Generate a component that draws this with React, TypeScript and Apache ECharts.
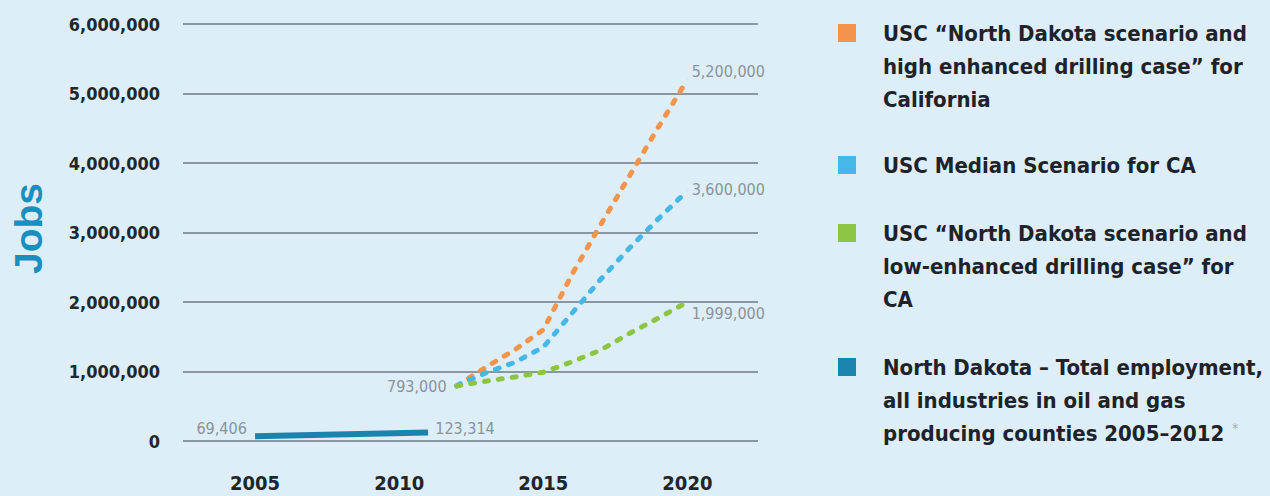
import React, { useEffect, useRef } from "react";
import * as echarts from "echarts";

// ---------- data ----------
const yearTicks = [2005, 2010, 2015, 2020];

const ndYears = [2005, 2011];
const ndJobs = [69406, 123314];

const scenarioYears = [2012, 2013, 2014, 2015, 2016, 2017, 2018, 2019, 2020];
const highCase = [793000, 1060000, 1310000, 1600000, 2400000, 3120000, 3820000, 4520000, 5200000];
const medianCase = [793000, 980000, 1130000, 1350000, 1840000, 2330000, 2780000, 3200000, 3600000];
const lowCase = [793000, 860000, 920000, 990000, 1140000, 1310000, 1550000, 1770000, 1999000];

const seriesNames = [
  "USC “North Dakota scenario and high enhanced drilling case” for California",
  "USC Median Scenario for CA",
  "USC “North Dakota scenario and low-enhanced drilling case” for CA",
  "North Dakota – Total employment, all industries in oil and gas producing counties 2005–2012",
];
const legendLines = [
  ["USC “North Dakota scenario and", "high enhanced drilling case” for", "California"],
  ["USC Median Scenario for CA"],
  ["USC “North Dakota scenario and", "low-enhanced drilling case” for", "CA"],
  ["North Dakota – Total employment,", "all industries in oil and gas", "producing counties 2005–2012"],
];
const colors = ["#f3944c", "#45b8e8", "#8cc444", "#1b84ad"];

const NARROW = "'Liberation Sans Narrow', 'DejaVu Sans Condensed', 'Liberation Sans', sans-serif";

const fmt = (v: number) => v.toLocaleString("en-US");

function pairs(xs: number[], ys: number[]) {
  return xs.map((x, i) => [x, ys[i]]);
}

export default function App() {
  const ref = useRef<HTMLDivElement>(null);

  useEffect(() => {
    document.body.style.margin = "0";
    if (!ref.current) return;
    const chart = echarts.init(ref.current, null, { renderer: "svg" });

    const valueLabel = {
      show: true,
      color: "#8a9399",
      fontFamily: NARROW,
      fontSize: 16,
      formatter: (p: any) => fmt(p.value[1]),
    };

    const dashedSeries = (
      name: string,
      data: number[],
      color: string,
      endOffset: number[],
      withStartLabel: boolean
    ) => ({
      type: "line",
      name,
      showSymbol: true,
      symbol: "circle",
      symbolSize: 0.5,
      itemStyle: { color },
      z: 3,
      lineStyle: { color, width: 5, type: [4, 10], cap: "round" },
      label: { show: false },
      emphasis: { disabled: true },
      data: pairs(scenarioYears, data).map((d, i) => {
        if (i === data.length - 1) {
          return { value: d, label: { ...valueLabel, position: "right", distance: 4, offset: endOffset } };
        }
        if (i === 0 && withStartLabel) {
          return { value: d, label: { ...valueLabel, position: "left", distance: 10, offset: [0, 1] } };
        }
        return d;
      }),
    });

    const graphics: any[] = [];
    const legendTops = [33, 165, 233, 367];
    legendLines.forEach((lines, i) => {
      graphics.push({
        type: "rect",
        shape: { x: 838, y: legendTops[i] - 9, width: 18, height: 18 },
        style: { fill: colors[i] },
      });
      lines.forEach((line, j) => {
        graphics.push({
          type: "text",
          x: 883,
          y: legendTops[i] + j * 33,
          style: {
            text: line,
            font: `bold 22px ${NARROW}`,
            fill: "#1e2329",
            textVerticalAlign: "middle",
          },
        });
      });
    });
    graphics.push({
      type: "text",
      x: 1232,
      y: 428,
      style: { text: "*", font: `14px ${NARROW}`, fill: "#a3acb2", textVerticalAlign: "middle" },
    });

    chart.setOption({
      animation: false,
      backgroundColor: "#ddeef9",
      grid: { left: 183, right: 512, top: 24, bottom: 55 },
      xAxis: {
        type: "value",
        min: 2002.5,
        max: 2022.45,
        axisLine: { show: false },
        axisTick: { show: false },
        splitLine: { show: false },
        axisLabel: {
          customValues: yearTicks,
          formatter: (v: number) => String(v),
          color: "#20252a",
          fontFamily: NARROW,
          fontWeight: "bold",
          fontSize: 20,
          margin: 32,
        },
      },
      yAxis: {
        type: "value",
        min: 0,
        max: 6000000,
        interval: 1000000,
        name: "Jobs",
        nameLocation: "middle",
        nameRotate: 90,
        nameGap: 135,
        nameTextStyle: {
          color: "#1a8fbf",
          fontFamily: "'Liberation Sans', sans-serif",
          fontWeight: "bold",
          fontSize: 39,
          padding: [0, 0, 0, 8],
        },
        axisLine: { show: false },
        axisTick: { show: false },
        splitLine: { lineStyle: { color: "#6f7a82", width: 1.6 } },
        axisLabel: {
          formatter: (v: number) => fmt(v),
          color: "#22272c",
          fontFamily: NARROW,
          fontWeight: "bold",
          fontSize: 18,
          margin: 23,
        },
      },
      graphic: graphics,
      series: [
        dashedSeries(seriesNames[0], highCase, colors[0], [0, -8], true),
        dashedSeries(seriesNames[1], medianCase, colors[1], [0, -1], false),
        dashedSeries(seriesNames[2], lowCase, colors[2], [0, 11], false),
        {
          type: "line",
          name: seriesNames[3],
          showSymbol: true,
          symbol: "circle",
          symbolSize: 0.5,
          itemStyle: { color: colors[3] },
          z: 4,
          emphasis: { disabled: true },
          lineStyle: { color: colors[3], width: 6 },
          data: pairs(ndYears, ndJobs).map((d, i) => ({
            value: d,
            label:
              i === 0
                ? { ...valueLabel, position: "left", distance: 8, offset: [0, -8] }
                : { ...valueLabel, position: "right", distance: 7, offset: [0, -4] },
          })),
        },
      ],
    });

    return () => chart.dispose();
  }, []);

  return <div ref={ref} style={{ width: 1270, height: 496 }} />;
}
